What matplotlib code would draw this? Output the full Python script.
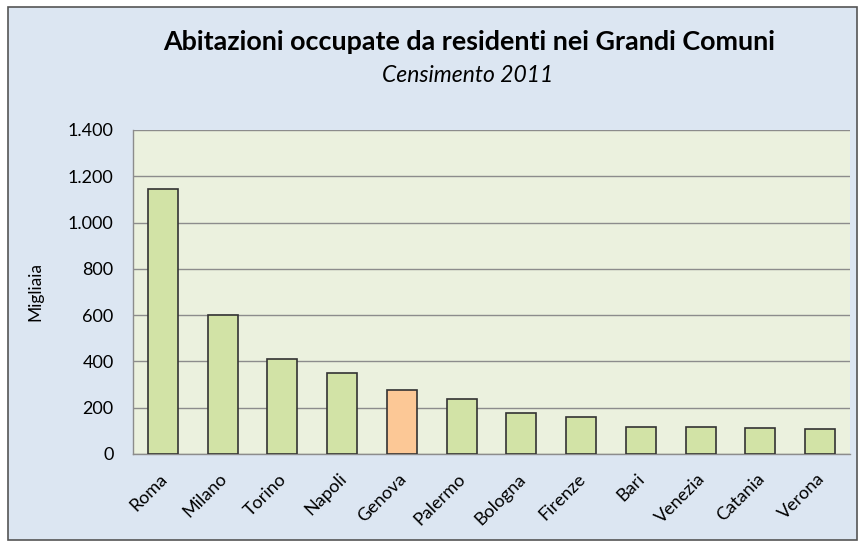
import matplotlib
matplotlib.use("Agg")
import matplotlib.pyplot as plt
from matplotlib.patches import Rectangle
from matplotlib.ticker import FuncFormatter
from matplotlib.transforms import ScaledTranslation

comuni = ["Roma", "Milano", "Torino", "Napoli", "Genova", "Palermo",
          "Bologna", "Firenze", "Bari", "Venezia", "Catania", "Verona"]
abitazioni = [1145, 602, 410, 350, 276, 238, 177, 160, 117, 115, 112, 108]
evidenziato = "Genova"

plt.rcParams["font.family"] = ["Lato", "DejaVu Sans"]

fig = plt.figure(figsize=(8.64, 5.47), dpi=100)
fig.patch.set_facecolor("white")
fig.add_artist(Rectangle((8 / 864, 7 / 547), 849 / 864, 533 / 547,
                         transform=fig.transFigure, facecolor="#DCE6F2",
                         edgecolor="#555555", linewidth=1.2, zorder=0))

ax = fig.add_axes([133 / 864, 1 - 454 / 547, 717 / 864, 324 / 547])
ax.set_facecolor("#EBF1DE")

colori = ["#FCC896" if c == evidenziato else "#D2E3A6" for c in comuni]
ax.bar(range(len(comuni)), abitazioni, width=0.5, color=colori,
       edgecolor="#333333", linewidth=1.2, zorder=3)

ax.set_xlim(-0.5, len(comuni) - 0.5)
ax.set_ylim(0, 1400)
ax.set_yticks(range(0, 1401, 200))
ax.yaxis.set_major_formatter(FuncFormatter(lambda v, p: f"{int(v):,}".replace(",", ".")))
ax.grid(axis="y", color="#8C8C8C", linewidth=1.0, zorder=0)
ax.set_xticks(range(len(comuni)))
ax.set_xticklabels(comuni, rotation=45, ha="right", rotation_mode="anchor")
ax.tick_params(axis="both", length=0, labelsize=13, colors="black")
ax.tick_params(axis="x", pad=12)
ax.tick_params(axis="y", pad=14)

# spostamento leggero delle etichette ruotate verso sinistra
sposta = ScaledTranslation(-4 / 100, 0, fig.dpi_scale_trans)
for lab in ax.get_xticklabels():
    lab.set_transform(lab.get_transform() + sposta)

for s in ["top", "right"]:
    ax.spines[s].set_visible(False)
for s in ["left", "bottom"]:
    ax.spines[s].set_color("#8C8C8C")
    ax.spines[s].set_linewidth(1.0)

ax.set_ylabel("Migliaia", fontsize=12.5)
ax.yaxis.set_label_coords(-0.125, 0.5)

fig.text(469 / 864, 1 - 50 / 547, "Abitazioni occupate da residenti nei Grandi Comuni",
         ha="center", va="baseline", fontsize=19.4, fontweight="bold")
fig.text(468 / 864, 1 - 82 / 547, "Censimento 2011",
         ha="center", va="baseline", fontsize=16.5, style="italic")

fig.savefig("out.png", dpi=100)
